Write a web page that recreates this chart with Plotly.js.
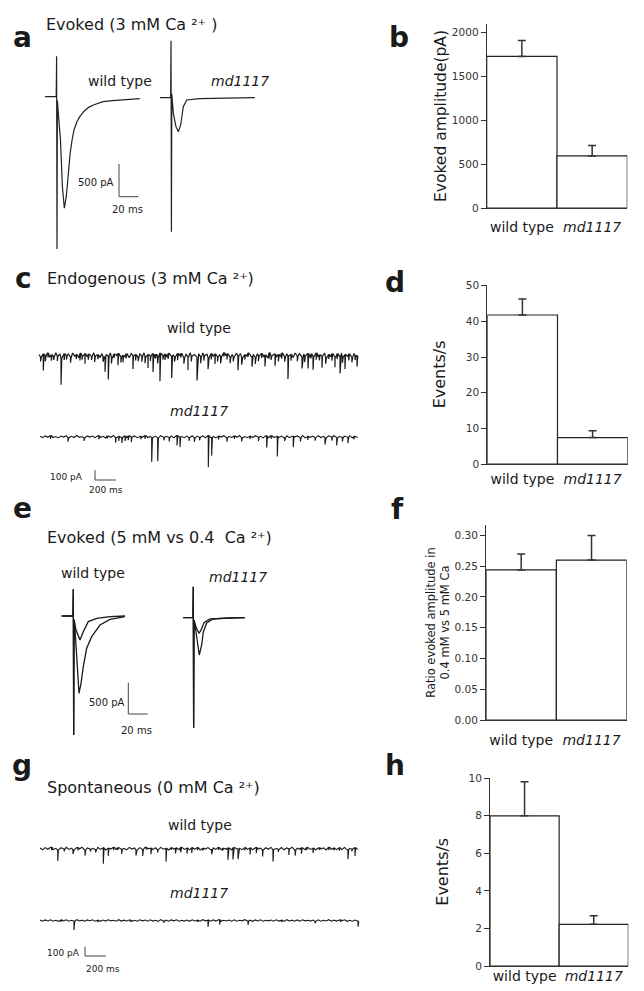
<!DOCTYPE html>
<html>
<head>
<meta charset="utf-8">
<script src="https://cdn.plot.ly/plotly-3.0.1.min.js"></script>
<style>html,body{margin:0;padding:0;background:#fff;}#chart{width:644px;height:991px;}</style>
</head>
<body>
<div id="chart"></div>
<script>
// ---------------- DATA ----------------
const barCats = ['wild type', 'md1117'];
const barTickText = ['wild type', '<i>md1117</i>'];

// b: evoked amplitude (pA)
const evokedAmp = [1730, 594];
const evokedErr = [182, 118];
// d: endogenous events/s
const endoRate = [41.8, 7.4];
const endoErr = [4.5, 1.9];
// f: ratio of evoked amplitude 0.4 mM vs 5 mM Ca
const ratioAmp = [0.244, 0.260];
const ratioErr = [0.026, 0.040];
// h: spontaneous events/s
const spontRate = [8.0, 2.22];
const spontErr = [1.82, 0.46];

// a: evoked traces, 3 mM Ca (time ms, current pA)
const aWtT = [0, 11.6, 12.0, 12.4, 12.8, 14, 16, 18, 20, 22, 24, 26, 28, 30, 33, 36, 40, 45, 50, 60, 70, 80, 90, 98];
const aWtI = [0, 0, 620, -2330, -60, -300, -660, -1376, -1706, -1529, -1171, -866, -662, -509, -382, -306, -229, -163, -127, -76, -61, -50, -40, -30];
const aMdT = [0, 11.0, 11.4, 11.8, 12.2, 13.8, 16.5, 19, 21.4, 24.1, 27.6, 41, 60, 80, 98];
const aMdI = [0, 0, 871, -2050, 60, -239, -443, -520, -417, -138, -35, -15, -8, -4, 0];

// e: evoked traces, 5 mM (large) vs 0.4 mM (small) Ca
const eWtT5 = [0, 11.6, 12.0, 12.4, 12.8, 13.8, 16.1, 17.9, 20, 22.3, 25.8, 31, 39.6, 49.9, 65.5];
const eWtI5 = [0, 0, 427, -1901, -60, -224, -863, -1235, -1075, -810, -516, -330, -144, -53, -10];
const eWtT04 = [0, 11.6, 12.0, 12.4, 12.8, 14.8, 18.9, 22.3, 27.5, 36.2, 50, 65.5];
const eWtI04 = [0, 0, 427, -1901, -60, -224, -383, -250, -90, -37, -10, 0];
const eMdT5 = [0, 9.9, 10.3, 10.7, 11.1, 12.1, 14.5, 16.5, 19, 20.7, 24.2, 30.7, 45, 63.8];
const eMdI5 = [0, 0, 495, -1757, -40, -117, -356, -596, -436, -228, -85, -21, -5, 0];
const eMdT04 = [0, 9.9, 10.3, 10.7, 11.1, 13.1, 16.2, 18.3, 21.4, 27.6, 45, 63.8];
const eMdI04 = [0, 0, 495, -1757, -40, -150, -249, -200, -80, -20, -5, 0];

// c: endogenous events (time ms, amplitude pA)
const cWtDuration = 3045;
const cWtEvents = [[41,167],[210,267],[438,100],[629,150],[660,233],[752,117],[895,133],[1038,133],[1086,183],[1152,283],[1264,217],[1419,133],[1505,233],[1610,117],[1676,100],[1895,143],[2029,100],[2152,117],[2248,117],[2371,233],[2505,117],[2562,150],[2610,133],[2695,117],[2819,100],[2867,177],[2914,143],[3029,110],
 [15,45],[60,55],[85,40],[118,60],[140,35],[175,50],[240,65],[262,40],[300,55],[355,45],[390,70],[410,40],[470,55],[500,35],[530,60],[560,45],[610,50],[690,60],[715,40],[780,55],[800,70],[830,45],[920,60],[945,40],[980,55],[1010,65],[1060,50],[1110,45],[1130,70],[1180,40],[1200,60],[1230,55],[1290,45],[1320,70],[1350,40],[1380,60],[1450,55],[1540,65],[1570,50],[1640,60],[1700,45],[1730,70],[1760,40],[1790,55],[1820,60],[1850,45],[1930,70],[1960,50],[1990,40],[2060,65],[2090,55],[2120,45],[2190,60],[2210,40],[2280,70],[2310,55],[2340,45],[2400,60],[2460,50],[2530,65],[2590,45],[2640,70],[2670,55],[2730,60],[2760,45],[2790,70],[2840,55],[2890,60],[2950,65],[2980,50],[3010,45]];
// baseline noise, pA, one value per noise step
const cWtNoiseStep = 20;
const cWtNoise = [5,-20,12,-8,18,-25,3,-15,22,-10,8,-30,15,-5,10,-22,20,-12,4,-28,
 16,-6,12,-20,8,-14,24,-9,2,-26,14,-18,6,-12,20,-24,10,-4,16,-20,
 -2,-16,12,-28,18,-8,6,-22,14,-12,22,-18,4,-10,12,-26,8,-14,20,-6,
 10,-24,16,-12,2,-20,18,-8,14,-28,6,-16,22,-10,4,-22,12,-18,20,-6,
 8,-26,16,-12,10,-20,2,-14,24,-8,12,-22,6,-18,18,-10,14,-26,4,-12,
 20,-16,8,-24,12,-6,16,-20,2,-28,22,-10,10,-18,6,-14,18,-22,12,-8,
 4,-26,20,-12,14,-18,8,-6,16,-24,10,-14,22,-20,2,-10,18,-28,6,-16,
 12,-22,14,-8,20,-18,4,-12,10,-24,16,-6];

const cMdDuration = 3040;
const cMdEvents = [[1064,243],[1121,233],[1305,100],[1333,100],[1603,317],[1635,183],[2159,117],[2260,200],[2412,110],[2714,67],[2826,77],[2933,60],
 [100,35],[267,40],[420,30],[560,35],[640,25],[720,50],[750,45],[780,55],[810,50],[840,45],[870,50],[960,30],[1000,35],[1180,30],[1230,40],[1420,35],[1470,40],[1520,30],[1700,35],[1780,40],[1850,30],[1920,35],[2000,30],[2080,40],[2200,35],[2330,30],[2480,40],[2550,35],[2620,30],[2780,35],[2880,40],[2990,30]];
const cMdNoiseStep = 25;
const cMdNoise = [4,-10,8,-6,12,-8,2,-12,6,-4,10,-10,4,-8,12,-6,2,-12,8,-4,
 6,-10,10,-8,4,-12,8,-6,12,-10,2,-8,6,-12,10,-4,8,-10,4,-6,
 12,-8,2,-10,6,-12,10,-6,4,-8,8,-12,12,-4,2,-10,6,-8,10,-12,
 4,-6,8,-10,12,-8,2,-12,6,-4,10,-10,4,-8,8,-6,12,-12,2,-10,
 6,-8,10,-4,4,-12,8,-10,12,-6,2,-8,6,-12,10,-10,4,-4,8,-8,
 12,-12,2,-6,6,-10,10,-8,4,-12,8,-4,12,-10,2,-8,6,-6,10,-12,
 4,-8];

// g: spontaneous events, 0 mM Ca
const gWtDuration = 3040;
const gWtEvents = [[169,118],[314,46],[429,60],[603,172],[650,83],[778,50],[914,60],[978,70],[1057,65],[1200,143],[1290,60],[1340,55],[1400,60],[1445,55],[1635,50],[1790,129],[1838,129],[1886,110],[2000,70],[2060,65],[2120,70],[2219,129],[2370,65],[2430,60],[2490,65],[2600,50],[2933,100],[3000,90],
 [110,30],[230,25],[360,30],[480,25],[530,30],[700,30],[740,25],[1010,25],[1120,30],[1250,25],[1500,30],[1550,25],[1700,30],[1740,25],[1950,30],[2270,25],[2540,30],[2660,25],[2750,30],[2800,25],[2850,30],[2970,25]];
const gWtNoiseStep = 25;
const gWtNoise = [6,-14,10,-8,14,-12,2,-16,8,-6,12,-10,4,-14,10,-4,14,-16,6,-8,
 2,-12,12,-10,8,-16,4,-6,14,-12,10,-8,2,-14,12,-6,6,-16,10,-10,
 14,-4,4,-12,8,-14,12,-8,2,-16,10,-6,6,-12,14,-10,4,-14,8,-8,
 12,-16,2,-6,10,-12,6,-10,14,-14,4,-8,8,-16,12,-4,2,-12,10,-10,
 6,-14,14,-6,4,-16,8,-8,12,-12,2,-10,10,-14,6,-4,14,-16,4,-8,
 8,-12,12,-10,2,-14,10,-6,6,-16,14,-8,4,-12,8,-10,12,-14,2,-6,
 10,-12];

const gMdDuration = 3040;
const gMdEvents = [[324,97],[1600,72],[1711,50],[1981,40],[3029,60],
 [200,20],[550,20],[860,20],[1180,20],[1500,20],[2300,20],[2620,20],[2860,20]];
const gMdNoiseStep = 25;
const gMdNoise = [4,-8,6,-5,8,-7,2,-9,5,-4,7,-8,3,-6,9,-5,4,-8,6,-3,
 8,-7,2,-9,5,-6,7,-4,3,-8,9,-6,4,-5,6,-9,2,-7,8,-4,
 5,-8,7,-6,3,-9,9,-5,4,-7,6,-4,8,-8,2,-6,5,-9,7,-5,
 3,-7,9,-4,4,-8,6,-6,8,-9,2,-5,5,-7,7,-8,3,-4,9,-6,
 4,-9,6,-5,8,-7,2,-4,5,-8,7,-6,3,-9,9,-5,4,-7,6,-8,
 8,-4,2,-6,5,-9,7,-7,3,-5,9,-8,4,-6,6,-4,8,-9,2,-7,
 5,-6];

// scale-bar sizes
const scaleEvoked = {ms: 20, pA: 500};
const scaleSlow = {ms: 200, pA: 100};

// ---------------- LAYOUT HELPERS ----------------
const W = 644, H = 991;
const pxX = x => x / W;
const pxY = y => 1 - y / H;
const FONT = 'DejaVu Sans, Liberation Sans, Arial, sans-serif';
const INK = '#1a1a1a';

const data = [];
const layout = {
  width: W, height: H,
  margin: {l: 0, r: 0, t: 0, b: 0},
  paper_bgcolor: 'white', plot_bgcolor: 'rgba(0,0,0,0)',
  showlegend: false,
  font: {family: FONT, color: INK},
  annotations: []
};
let axN = 0;
function axNames() {
  axN++;
  return {x: axN === 1 ? 'x' : 'x' + axN, y: axN === 1 ? 'y' : 'y' + axN,
          xl: axN === 1 ? 'xaxis' : 'xaxis' + axN, yl: axN === 1 ? 'yaxis' : 'yaxis' + axN};
}
// box = [left, right, top, bottom] px ; origin = [px of t=0, px of I=0] ; sx px/ms ; sy px/pA
function traceAxes(box, origin, sx, sy) {
  const n = axNames();
  layout[n.xl] = {domain: [pxX(box[0]), pxX(box[1])], range: [(box[0] - origin[0]) / sx, (box[1] - origin[0]) / sx],
                  visible: false, fixedrange: true, anchor: n.y};
  layout[n.yl] = {domain: [pxY(box[3]), pxY(box[2])], range: [(origin[1] - box[3]) / sy, (origin[1] - box[2]) / sy],
                  visible: false, fixedrange: true, anchor: n.x};
  return {x: n.x, y: n.y, origin: origin, sx: sx, sy: sy};
}
function line(ax, xs, ys, width, color) {
  data.push({type: 'scatter', mode: 'lines', x: xs, y: ys, xaxis: ax.x, yaxis: ax.y,
             line: {color: color || INK, width: width || 1}, hoverinfo: 'skip'});
}
function scaleBar(ax, cornerPx, sc) {
  const t0 = (cornerPx[0] - ax.origin[0]) / ax.sx;
  const i0 = (ax.origin[1] - cornerPx[1]) / ax.sy;
  line(ax, [t0, t0, t0 + sc.ms], [i0 + sc.pA, i0, i0], 1, '#444');
}
// recorded trace: noisy baseline samples plus fast synaptic events
function eventTrace(events, noise, step, duration, decay) {
  const pts = [];
  noise.forEach((v, k) => { if (k * step <= duration) pts.push([k * step, v]); });
  const base = t => noise[Math.min(noise.length - 1, Math.round(t / step))];
  events.forEach(e => {
    const t = e[0], a = e[1], b = base(t);
    pts.push([t - 0.6, b], [t, b - a], [t + decay, b]);
  });
  pts.sort((p, q) => p[0] - q[0]);
  return {x: pts.map(p => p[0]), y: pts.map(p => p[1])};
}
function text(t, x, y, size, extra, fontExtra) {
  layout.annotations.push(Object.assign({text: t, xref: 'paper', yref: 'paper', x: pxX(x), y: pxY(y),
    xanchor: 'center', yanchor: 'middle', showarrow: false,
    font: Object.assign({size: size, family: FONT, color: INK}, fontExtra || {})}, extra || {}));
}

// ---------------- PANEL a ----------------
const aSx = 0.967, aSy = 0.0654;
const axAwt = traceAxes([40, 150, 30, 252], [45, 96.7], aSx, aSy);
line(axAwt, aWtT, aWtI, 1.2, '#222');
scaleBar(axAwt, [119, 196.7], scaleEvoked);
const axAmd = traceAxes([155, 262, 30, 252], [160, 97.7], aSx, aSy);
line(axAmd, aMdT, aMdI, 1.2, '#222');

// ---------------- PANEL c ----------------
const cSx = 0.105, cSy = 0.1;
const axCwt = traceAxes([36, 362, 335, 392], [39, 355], cSx, cSy);
const cw = eventTrace(cWtEvents, cWtNoise, cWtNoiseStep, cWtDuration, 7);
line(axCwt, cw.x, cw.y, 1.2, '#1a1a1a');
const axCmd = traceAxes([36, 362, 420, 485], [40, 436.7], cSx, cSy);
const cm = eventTrace(cMdEvents, cMdNoise, cMdNoiseStep, cMdDuration, 7);
line(axCmd, cm.x, cm.y, 1.1, '#1a1a1a');
scaleBar(axCmd, [95, 480], scaleSlow);

// ---------------- PANEL e ----------------
const eSx = 0.967, eSy = 0.0626;
const axEwt = traceAxes([55, 160, 585, 740], [61.7, 616], eSx, eSy);
line(axEwt, eWtT5, eWtI5, 1.3, '#1a1a1a');
line(axEwt, eWtT04, eWtI04, 1.3, '#1a1a1a');
scaleBar(axEwt, [128.3, 714], scaleEvoked);
const axEmd = traceAxes([178, 250, 580, 740], [183.3, 617.7], eSx, eSy);
line(axEmd, eMdT5, eMdI5, 1.3, '#1a1a1a');
line(axEmd, eMdT04, eMdI04, 1.3, '#1a1a1a');

// ---------------- PANEL g ----------------
const gSx = 0.105, gSy = 0.093;
const axGwt = traceAxes([36, 362, 835, 870], [40, 848.5], gSx, gSy);
const gw = eventTrace(gWtEvents, gWtNoise, gWtNoiseStep, gWtDuration, 7);
line(axGwt, gw.x, gw.y, 1.1, '#1a1a1a');
const axGmd = traceAxes([36, 362, 905, 965], [40, 920.5], gSx, gSy);
const gm = eventTrace(gMdEvents, gMdNoise, gMdNoiseStep, gMdDuration, 7);
line(axGmd, gm.x, gm.y, 1.1, '#1a1a1a');
scaleBar(axGmd, [85, 956], scaleSlow);

// ---------------- BAR PANELS ----------------
function barPanel(box, vals, errs, yRange, dtick, title, titleSize, tickFormat, labelShift) {
  const n = axNames();
  layout[n.xl] = {domain: [pxX(box[0]), pxX(box[1])], range: [-0.5, 1.5], type: 'category',
    tickvals: barCats, ticktext: barTickText, showline: true, linecolor: '#333', linewidth: 1,
    ticks: '', showgrid: false, zeroline: false, fixedrange: true, anchor: n.y,
    ticklabelstandoff: labelShift || 0,
    tickfont: {size: 14, family: FONT, color: INK}};
  layout[n.yl] = {domain: [pxY(box[3]), pxY(box[2])], range: yRange, dtick: dtick, tick0: 0,
    showline: true, linecolor: '#333', linewidth: 1, ticks: 'outside', ticklen: 5, tickwidth: 1, tickcolor: '#333',
    showgrid: false, zeroline: false, fixedrange: true, anchor: n.x, tickformat: tickFormat || '',
    tickfont: {size: 10.5, family: FONT, color: '#333'},
    title: {text: title, font: {size: titleSize, family: FONT, color: INK}}};
  data.push({type: 'bar', x: barCats, y: vals, xaxis: n.x, yaxis: n.y, width: [1, 1],
    marker: {color: 'white', line: {color: '#222', width: 1.2}},
    error_y: {type: 'data', array: errs, symmetric: false, arrayminus: [0, 0], color: '#333', thickness: 1.5, width: 4},
    hoverinfo: 'skip'});
}
barPanel([486.7, 627.3, 24, 208], evokedAmp, evokedErr, [0, 2100], 500, 'Evoked amplitude(pA)', 15.5, '', 6);
barPanel([487.3, 627.7, 284.7, 464], endoRate, endoErr, [0, 50.3], 10, 'Events/s', 16, '', 2);
barPanel([486, 626.7, 525, 720], ratioAmp, ratioErr, [0, 0.317], 0.05, 'Ratio evoked amplitude in<br>0.4 mM vs 5 mM Ca', 11.5, '.2f', 7);
barPanel([490, 628.3, 777.5, 966], spontRate, spontErr, [0, 10.04], 2, 'Events/s', 16, '', -3);

// ---------------- TEXT ----------------
const BOLD = {weight: 'bold'};
const ITAL = {style: 'italic'};
text('a', 22, 38, 28, null, BOLD); text('b', 399, 37, 28, null, BOLD);
text('c', 23, 279, 28, null, BOLD); text('d', 395, 283, 28, null, BOLD);
text('e', 22, 508, 28, null, BOLD); text('f', 397, 509, 28, null, BOLD);
text('g', 22, 765, 28, null, BOLD); text('h', 395, 765, 28, null, BOLD);

const left = {xanchor: 'left'};
text('Evoked (3 mM Ca \u00B2\u207A )', 44, 25, 16, left);
text('Endogenous (3 mM Ca \u00B2\u207A)', 45, 278, 16, left);
text('Evoked (5 mM vs 0.4  Ca \u00B2\u207A)', 45, 537, 16, left);
text('Spontaneous (0 mM Ca \u00B2\u207A)', 45, 787, 16, left);

text('wild type', 120, 81, 14); text('md1117', 240, 81, 14, null, ITAL);
text('500 pA', 96, 182, 10); text('20 ms', 128, 210, 10);

text('wild type', 199, 328, 14); text('md1117', 199, 411, 14, null, ITAL);
text('100 pA', 66, 477, 9); text('200 ms', 106, 490, 9);

text('wild type', 93, 573, 14); text('md1117', 238, 577, 14, null, ITAL);
text('500 pA', 107, 702, 10); text('20 ms', 136, 730, 10);

text('wild type', 200, 825, 14); text('md1117', 199, 893, 14, null, ITAL);
text('100 pA', 63, 953, 9); text('200 ms', 103, 969, 9);

Plotly.newPlot('chart', data, layout, {displayModeBar: false, staticPlot: true});
</script>
</body>
</html>
